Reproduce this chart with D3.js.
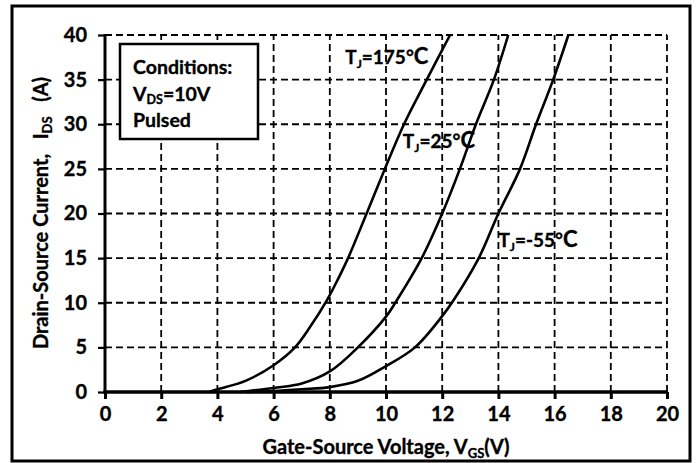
<!DOCTYPE html>
<html><head><meta charset="utf-8">
<script src="https://cdn.jsdelivr.net/npm/d3@7"></script>
<style>
body{margin:0;background:#fff}
svg{display:block}
text{font-family:Lato,"Open Sans",sans-serif;font-weight:bold;fill:#000;stroke:#000;stroke-width:0.35px}
</style>
</head><body>
<svg id="c" width="697" height="463"></svg>
<script>
// ---- data ----
const xTicks = [0, 2, 4, 6, 8, 10, 12, 14, 16, 18, 20];
const yTicks = [0, 5, 10, 15, 20, 25, 30, 35, 40];

const vgs175 = [3.7, 4.0, 5.0, 6.0, 6.76, 7.3, 7.9, 8.3, 8.65, 9.31, 9.96, 10.64, 11.45, 12.28];
const ids175 = [0, 0.3, 1.25, 3.0, 5, 7.3, 10.3, 12.7, 15, 20, 25, 30, 35, 40];

const vgs25 = [4.8, 6.0, 7.0, 8.0, 9.0, 10.0, 10.33, 11.27, 12.0, 12.63, 13.2, 13.84, 14.35];
const ids25 = [0, 0.45, 0.95, 2.3, 5.0, 8.44, 10, 15, 20, 25, 30, 35, 40];

const vgsM55 = [5.0, 6.0, 7.0, 8.0, 9.0, 10.0, 11.03, 12.0, 12.45, 13.3, 14.0, 14.77, 15.34, 15.95, 16.49];
const idsM55 = [0, 0.1, 0.3, 0.55, 1.25, 2.9, 5, 8.5, 10.5, 15, 20, 25, 30, 35, 40];

const curveLabels = [
  {t: "175", v: 8.55, i: 36.8},
  {t: "25",  v: 10.6, i: 27.3},
  {t: "-55", v: 14.0, i: 16.2}
];
const conditions = ["Conditions:", "V|DS|=10V", "Pulsed"];

// ---- layout ----
const svg = d3.select("#c");
const L = 105, T = 35, R = 667, B = 392;
const x = d3.scaleLinear().domain([0, 20]).range([L, R]);
const y = d3.scaleLinear().domain([0, 40]).range([B, T]);

// outer border
svg.append("rect").attr("x", 12).attr("y", 6).attr("width", 678).attr("height", 455)
  .attr("fill", "#fff").attr("stroke", "#000").attr("stroke-width", 3);

// grid
const g = svg.append("g");
g.selectAll("line.gx").data(xTicks.filter(d => d > 0)).join("line")
  .attr("x1", d => x(d)).attr("x2", d => x(d)).attr("y1", B).attr("y2", T)
  .attr("stroke", "#000").attr("stroke-width", 1.8).attr("stroke-dasharray", "7,4");
g.selectAll("line.gy").data(yTicks.filter(d => d > 0)).join("line")
  .attr("x1", L).attr("x2", R).attr("y1", d => y(d)).attr("y2", d => y(d))
  .attr("stroke", "#000").attr("stroke-width", 1.8).attr("stroke-dasharray", "7,4");

// axes
const xAxis = d3.axisBottom(x).tickValues(xTicks).tickSize(7).tickPadding(8).tickFormat(d3.format("d"));
const yAxis = d3.axisLeft(y).tickValues(yTicks).tickSize(7).tickPadding(11).tickFormat(d3.format("d"));
const gx = svg.append("g").attr("transform", `translate(0,${B})`).call(xAxis);
const gy = svg.append("g").attr("transform", `translate(${L},0)`).call(yAxis);
[gx, gy].forEach(a => {
  a.select(".domain").remove();
  a.selectAll(".tick line").attr("stroke", "#000").attr("stroke-width", 3);
  a.selectAll(".tick text").style("font-size", "20px").style("font-family", "Lato").style("font-weight", "bold")
    .attr("fill", "#000").attr("stroke", "#000").attr("stroke-width", 0.35);
});
gy.selectAll(".tick line").attr("stroke-width", 2.2);
svg.append("line").attr("x1", L).attr("x2", L).attr("y1", T - 1).attr("y2", B + 1.5)
  .attr("stroke", "#000").attr("stroke-width", 3);
svg.append("line").attr("x1", L - 1.5).attr("x2", R + 1).attr("y1", B).attr("y2", B)
  .attr("stroke", "#000").attr("stroke-width", 3.5);

// curves
const line = d3.line().x(d => x(d[0])).y(d => y(d[1])).curve(d3.curveCatmullRom.alpha(0.5));
const series = [[vgs175, ids175], [vgs25, ids25], [vgsM55, idsM55]];
series.forEach(([vs, is]) => {
  svg.append("path").datum(vs.map((v, k) => [v, is[k]]))
    .attr("d", line).attr("fill", "none").attr("stroke", "#000").attr("stroke-width", 2.6);
});

// legend box
svg.append("rect").attr("x", 120).attr("y", 44).attr("width", 138).attr("height", 95)
  .attr("fill", "#fff").attr("stroke", "#000").attr("stroke-width", 2.5);
const lt = svg.append("g");
lt.append("text").attr("x", 133).attr("y", 74).style("font-size", "19.5px").text(conditions[0]);
const parts = conditions[1].split("|");
const t2 = lt.append("text").attr("x", 133).attr("y", 101).style("font-size", "19.5px");
t2.append("tspan").text(parts[0]);
t2.append("tspan").attr("dy", 3).style("font-size", "12.5px").text(parts[1]);
t2.append("tspan").attr("dy", -3).text(parts[2]);
lt.append("text").attr("x", 133).attr("y", 127).style("font-size", "19.5px").text(conditions[2]);

// curve labels
curveLabels.forEach(c => {
  const t = svg.append("text").attr("x", x(c.v)).attr("y", y(c.i)).style("font-size", "19px");
  t.append("tspan").text("T");
  t.append("tspan").attr("dy", 4).style("font-size", "12px").text("J");
  t.append("tspan").attr("dy", -4).text("=" + c.t + "°");
  t.append("tspan").style("font-size", "22px").text("C");
});

// axis titles
const xt = svg.append("text").attr("x", (L + R) / 2).attr("y", 454).attr("text-anchor", "middle").style("font-size", "20px");
xt.append("tspan").text("Gate-Source Voltage, V");
xt.append("tspan").attr("dy", 4).style("font-size", "13px").text("GS");
xt.append("tspan").attr("dy", -4).text("(V)");

const yt = svg.append("text").attr("transform", "translate(48,213) rotate(-90)").attr("text-anchor", "middle")
  .style("font-size", "20px").style("white-space", "pre").attr("xml:space", "preserve");
yt.append("tspan").text("Drain-Source Current,   I");
yt.append("tspan").attr("dy", 4).style("font-size", "13px").text("DS");
yt.append("tspan").attr("dy", -4).text("   (A)");
</script>
</body></html>
